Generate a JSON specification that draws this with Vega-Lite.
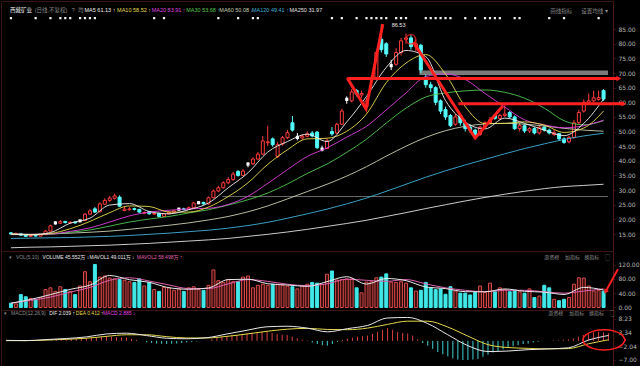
{
"$schema": "https://vega.github.io/schema/vega-lite/v6.json",
"background": "#000000",
"padding": 0,
"spacing": 0,
"bounds": "flush",
"config": {
  "view": {"stroke": "#3a1414", "strokeWidth": 1},
  "axis": {"labelFontSize": 6, "labelColor": "#b8b8b8", "labelFont": "DejaVu Sans", "domainColor": "#4a1616", "tickColor": "#4a1616", "tickSize": 2, "labelPadding": 3, "grid": false, "labelOverlap": false, "labelFlush": false},
  "text": {"font": "Liberation Sans, Noto Sans CJK SC", "fontSize": 5.5}
},
"resolve": {"scale": {"color": "independent"}},
"datasets": {
"k": [
{"i":0,"o":15.4,"h":15.7,"l":14.8,"c":15.0,"v":12,"m":0.1},
{"i":1,"o":15.0,"h":15.5,"l":14.8,"c":15.2,"v":10,"m":0.1},
{"i":2,"o":15.2,"h":15.3,"l":14.4,"c":14.6,"v":36,"m":0},
{"i":3,"o":14.6,"h":14.8,"l":14.0,"c":14.2,"v":30,"m":0},
{"i":4,"o":14.2,"h":14.8,"l":14.0,"c":14.5,"v":25,"m":0},
{"i":5,"o":14.6,"h":14.8,"l":14.1,"c":14.3,"v":22,"m":0.1},
{"i":6,"o":14.3,"h":15.0,"l":14.2,"c":14.8,"v":28,"m":0.2},
{"i":7,"o":14.8,"h":16.3,"l":14.7,"c":16.0,"v":50,"m":0.3},
{"i":8,"o":16.0,"h":18.2,"l":15.9,"c":17.8,"v":55,"m":0.4},
{"i":9,"o":18.8,"h":19.3,"l":18.2,"c":18.8,"v":45,"m":0.5},
{"i":10,"o":18.7,"h":19.8,"l":18.5,"c":19.2,"v":58,"m":0.5},
{"i":11,"o":19.3,"h":19.5,"l":18.6,"c":18.9,"v":50,"m":0.6},
{"i":12,"o":18.8,"h":19.4,"l":18.5,"c":19.0,"v":45,"m":0.6},
{"i":13,"o":19.1,"h":19.3,"l":18.5,"c":18.8,"v":36,"m":0.7},
{"i":14,"o":19.5,"h":19.9,"l":19.1,"c":19.5,"v":60,"m":0.8},
{"i":15,"o":19.6,"h":22.2,"l":19.5,"c":21.8,"v":100,"m":0.9},
{"i":16,"o":21.8,"h":23.5,"l":21.5,"c":22.9,"v":72,"m":1.0},
{"i":17,"o":23.6,"h":24.2,"l":22.2,"c":22.5,"v":120,"m":1.2},
{"i":18,"o":22.6,"h":25.8,"l":22.4,"c":25.3,"v":85,"m":1.4},
{"i":19,"o":25.2,"h":27.2,"l":25.0,"c":26.5,"v":88,"m":1.6},
{"i":20,"o":26.5,"h":28.0,"l":26.0,"c":27.3,"v":82,"m":1.8},
{"i":21,"o":27.2,"h":28.8,"l":26.8,"c":28.0,"v":80,"m":1.6},
{"i":22,"o":27.6,"h":28.2,"l":24.2,"c":24.5,"v":78,"m":1.4},
{"i":23,"o":23.0,"h":24.5,"l":22.8,"c":23.5,"v":76,"m":1.3},
{"i":24,"o":23.3,"h":24.2,"l":23.0,"c":23.6,"v":72,"m":1.2},
{"i":25,"o":23.7,"h":24.0,"l":23.0,"c":23.4,"v":70,"m":0.8},
{"i":26,"o":23.4,"h":23.6,"l":22.2,"c":22.5,"v":80,"m":0.4},
{"i":27,"o":22.1,"h":22.8,"l":21.8,"c":22.3,"v":60,"m":0},
{"i":28,"o":22.6,"h":22.8,"l":21.6,"c":21.9,"v":70,"m":-0.5},
{"i":29,"o":21.8,"h":22.4,"l":21.5,"c":22.0,"v":50,"m":-0.8},
{"i":30,"o":22.1,"h":22.2,"l":20.7,"c":21.0,"v":45,"m":-1.0},
{"i":31,"o":21.0,"h":22.1,"l":20.8,"c":21.9,"v":56,"m":-1.1},
{"i":32,"o":21.9,"h":22.8,"l":21.7,"c":22.5,"v":55,"m":-1.2},
{"i":33,"o":22.4,"h":23.2,"l":22.2,"c":22.9,"v":48,"m":-1.1},
{"i":34,"o":23.5,"h":23.8,"l":23.1,"c":23.5,"v":52,"m":-1.0},
{"i":35,"o":23.6,"h":24.0,"l":23.1,"c":23.4,"v":45,"m":-0.8},
{"i":36,"o":23.4,"h":24.4,"l":23.2,"c":24.0,"v":55,"m":-0.6},
{"i":37,"o":24.0,"h":26.0,"l":23.8,"c":25.6,"v":58,"m":-0.4},
{"i":38,"o":25.7,"h":26.2,"l":25.2,"c":25.7,"v":50,"m":-0.2},
{"i":39,"o":25.8,"h":26.0,"l":25.0,"c":25.3,"v":48,"m":0},
{"i":40,"o":25.3,"h":27.8,"l":25.1,"c":27.4,"v":62,"m":0.1},
{"i":41,"o":27.4,"h":30.2,"l":27.2,"c":29.7,"v":105,"m":0.6},
{"i":42,"o":29.7,"h":31.5,"l":29.3,"c":30.8,"v":75,"m":1.2},
{"i":43,"o":30.8,"h":33.0,"l":30.5,"c":32.5,"v":70,"m":1.6},
{"i":44,"o":32.5,"h":34.5,"l":32.0,"c":33.6,"v":78,"m":1.8},
{"i":45,"o":33.6,"h":36.2,"l":33.2,"c":35.5,"v":72,"m":2.1},
{"i":46,"o":36.4,"h":36.8,"l":34.6,"c":35.0,"v":72,"m":2.2},
{"i":47,"o":35.0,"h":37.2,"l":34.8,"c":36.5,"v":85,"m":2.4},
{"i":48,"o":38.9,"h":39.6,"l":37.8,"c":38.9,"v":88,"m":2.8},
{"i":49,"o":39.0,"h":41.2,"l":38.6,"c":40.6,"v":55,"m":3.0},
{"i":50,"o":40.6,"h":43.0,"l":40.2,"c":42.3,"v":62,"m":3.1},
{"i":51,"o":42.3,"h":48.5,"l":42.0,"c":46.8,"v":65,"m":3.4},
{"i":52,"o":46.2,"h":52.0,"l":45.0,"c":46.5,"v":62,"m":3.4},
{"i":53,"o":47.5,"h":48.0,"l":44.8,"c":45.5,"v":65,"m":3.0},
{"i":54,"o":41.5,"h":46.5,"l":41.0,"c":45.5,"v":65,"m":2.6},
{"i":55,"o":45.8,"h":48.5,"l":45.2,"c":47.9,"v":62,"m":2.4},
{"i":56,"o":47.9,"h":50.5,"l":47.5,"c":49.6,"v":60,"m":2.2},
{"i":57,"o":53.0,"h":55.3,"l":50.0,"c":50.5,"v":58,"m":1.6},
{"i":58,"o":48.0,"h":49.5,"l":47.0,"c":48.0,"v":52,"m":1.0},
{"i":59,"o":47.8,"h":49.0,"l":47.2,"c":48.4,"v":60,"m":0.4},
{"i":60,"o":48.4,"h":50.0,"l":48.0,"c":49.2,"v":65,"m":0.2},
{"i":61,"o":49.5,"h":50.2,"l":48.0,"c":48.5,"v":70,"m":-0.6},
{"i":62,"o":49.8,"h":50.2,"l":44.0,"c":44.5,"v":68,"m":-1.2},
{"i":63,"o":44.0,"h":45.2,"l":43.2,"c":44.0,"v":65,"m":-1.6},
{"i":64,"o":44.2,"h":47.5,"l":44.0,"c":46.8,"v":93,"m":-1.8},
{"i":65,"o":50.0,"h":51.5,"l":48.5,"c":49.2,"v":102,"m":-1.2},
{"i":66,"o":49.5,"h":53.0,"l":49.2,"c":52.5,"v":77,"m":-0.4},
{"i":67,"o":52.5,"h":57.8,"l":52.2,"c":57.0,"v":78,"m":0.4},
{"i":68,"o":61.0,"h":62.0,"l":59.5,"c":61.0,"v":80,"m":0.8},
{"i":69,"o":60.5,"h":64.5,"l":60.0,"c":63.5,"v":80,"m":1.2},
{"i":70,"o":64.0,"h":64.5,"l":62.0,"c":62.8,"v":55,"m":1.6},
{"i":71,"o":62.5,"h":64.0,"l":61.5,"c":63.0,"v":41,"m":1.8},
{"i":72,"o":58.5,"h":61.5,"l":57.5,"c":60.5,"v":71,"m":2.0},
{"i":73,"o":68.0,"h":69.0,"l":66.5,"c":68.0,"v":72,"m":2.6},
{"i":74,"o":68.5,"h":78.0,"l":68.0,"c":77.0,"v":83,"m":3.4},
{"i":75,"o":81.5,"h":86.5,"l":77.0,"c":78.0,"v":85,"m":4.2},
{"i":76,"o":80.0,"h":80.5,"l":75.5,"c":76.5,"v":94,"m":4.8},
{"i":77,"o":72.5,"h":74.5,"l":71.0,"c":72.5,"v":71,"m":4.2},
{"i":78,"o":73.0,"h":78.5,"l":72.5,"c":77.0,"v":70,"m":3.4},
{"i":79,"o":77.0,"h":82.0,"l":76.0,"c":81.0,"v":72,"m":3.0},
{"i":80,"o":81.5,"h":83.5,"l":80.0,"c":82.0,"v":68,"m":2.8},
{"i":81,"o":82.0,"h":83.0,"l":78.0,"c":79.0,"v":55,"m":2.0},
{"i":82,"o":79.0,"h":81.5,"l":77.5,"c":80.0,"v":46,"m":0.6},
{"i":83,"o":79.5,"h":80.0,"l":70.0,"c":71.0,"v":48,"m":-0.8},
{"i":84,"o":68.5,"h":69.5,"l":65.0,"c":66.0,"v":70,"m":-1.8},
{"i":85,"o":66.0,"h":67.0,"l":63.5,"c":65.0,"v":55,"m":-3.0},
{"i":86,"o":65.0,"h":65.5,"l":59.0,"c":60.0,"v":50,"m":-4.2},
{"i":87,"o":60.5,"h":61.0,"l":56.0,"c":57.0,"v":52,"m":-5.0},
{"i":88,"o":57.5,"h":58.5,"l":54.0,"c":55.0,"v":37,"m":-5.8},
{"i":89,"o":55.5,"h":56.0,"l":51.5,"c":52.0,"v":58,"m":-6.6},
{"i":90,"o":52.5,"h":56.0,"l":52.0,"c":55.0,"v":46,"m":-7.0},
{"i":91,"o":55.5,"h":56.0,"l":52.0,"c":53.0,"v":40,"m":-7.2},
{"i":92,"o":53.0,"h":54.0,"l":50.0,"c":51.0,"v":40,"m":-7.2},
{"i":93,"o":51.5,"h":52.5,"l":49.5,"c":50.5,"v":35,"m":-7.0},
{"i":94,"o":50.5,"h":51.0,"l":47.5,"c":48.5,"v":42,"m":-6.8},
{"i":95,"o":49.0,"h":52.0,"l":48.5,"c":51.5,"v":60,"m":-6.0},
{"i":96,"o":51.5,"h":53.5,"l":51.0,"c":53.0,"v":42,"m":-5.2},
{"i":97,"o":53.0,"h":55.0,"l":52.5,"c":54.0,"v":68,"m":-4.4},
{"i":98,"o":55.5,"h":56.0,"l":54.0,"c":54.5,"v":44,"m":-3.8},
{"i":99,"o":54.5,"h":56.0,"l":54.0,"c":55.5,"v":55,"m":-3.2},
{"i":100,"o":55.5,"h":59.5,"l":55.0,"c":56.0,"v":50,"m":-2.6},
{"i":101,"o":56.5,"h":57.0,"l":54.5,"c":55.0,"v":44,"m":-2.0},
{"i":102,"o":55.0,"h":55.5,"l":50.5,"c":51.0,"v":48,"m":-1.6},
{"i":103,"o":51.0,"h":53.0,"l":50.0,"c":52.0,"v":44,"m":-1.2},
{"i":104,"o":52.0,"h":52.5,"l":49.5,"c":50.2,"v":40,"m":-1.0},
{"i":105,"o":50.2,"h":51.5,"l":49.5,"c":51.0,"v":52,"m":-0.6},
{"i":106,"o":51.0,"h":51.5,"l":49.0,"c":49.5,"v":28,"m":-0.3},
{"i":107,"o":49.5,"h":52.0,"l":49.0,"c":51.5,"v":32,"m":0},
{"i":108,"o":51.5,"h":52.0,"l":50.0,"c":50.5,"v":62,"m":0},
{"i":109,"o":50.5,"h":51.0,"l":49.0,"c":49.5,"v":55,"m":0.2},
{"i":110,"o":49.0,"h":50.5,"l":48.5,"c":49.6,"v":23,"m":0.2},
{"i":111,"o":49.3,"h":49.5,"l":47.0,"c":47.5,"v":19,"m":0.4},
{"i":112,"o":47.5,"h":48.0,"l":45.8,"c":46.3,"v":23,"m":0.6},
{"i":113,"o":46.5,"h":48.5,"l":46.0,"c":48.0,"v":28,"m":1.0},
{"i":114,"o":48.0,"h":54.0,"l":47.5,"c":53.0,"v":65,"m":1.6},
{"i":115,"o":53.0,"h":57.5,"l":52.5,"c":56.5,"v":83,"m":2.2},
{"i":116,"o":57.0,"h":61.0,"l":56.5,"c":60.0,"v":82,"m":2.8},
{"i":117,"o":60.0,"h":63.0,"l":59.5,"c":60.5,"v":60,"m":3.2},
{"i":118,"o":60.5,"h":64.0,"l":60.0,"c":61.5,"v":46,"m":3.4},
{"i":119,"o":61.0,"h":64.0,"l":60.5,"c":61.6,"v":48,"m":3.2},
{"i":120,"o":64.0,"h":64.5,"l":60.5,"c":61.1,"v":45.6,"m":2.9}
],
"ma": [
{"i":0,"m5":15.0,"m10":15.0,"m20":15.0,"m30":15.0,"m60":14.8,"m120":13.5,"m250":10.3},
{"i":4,"m5":14.7,"m10":14.8,"m20":14.9,"m30":14.9,"m60":14.8,"m120":13.6,"m250":10.5},
{"i":8,"m5":15.5,"m10":15.2,"m20":15.0,"m30":15.0,"m60":15.0,"m120":13.7,"m250":10.6},
{"i":12,"m5":18.7,"m10":16.8,"m20":15.9,"m30":15.6,"m60":15.3,"m120":13.8,"m250":10.8},
{"i":16,"m5":20.4,"m10":19.3,"m20":17.1,"m30":16.4,"m60":15.6,"m120":14.0,"m250":11.0},
{"i":20,"m5":24.9,"m10":22.3,"m20":19.1,"m30":17.7,"m60":16.0,"m120":14.2,"m250":11.2},
{"i":24,"m5":25.4,"m10":24.6,"m20":21.2,"m30":19.1,"m60":16.6,"m120":14.5,"m250":11.5},
{"i":28,"m5":22.7,"m10":24.4,"m20":22.5,"m30":20.1,"m60":17.3,"m120":14.9,"m250":11.8},
{"i":32,"m5":21.9,"m10":22.5,"m20":23.1,"m30":21.0,"m60":18.0,"m120":15.3,"m250":12.2},
{"i":36,"m5":23.3,"m10":22.5,"m20":23.6,"m30":22.2,"m60":18.8,"m120":15.8,"m250":12.6},
{"i":40,"m5":25.6,"m10":24.2,"m20":23.8,"m30":23.3,"m60":19.8,"m120":16.3,"m250":13.0},
{"i":44,"m5":30.8,"m10":27.8,"m20":25.1,"m30":24.9,"m60":21.0,"m120":17.0,"m250":13.5},
{"i":48,"m5":35.9,"m10":32.5,"m20":27.9,"m30":26.7,"m60":22.6,"m120":17.9,"m250":14.2},
{"i":52,"m5":43.0,"m10":38.8,"m20":32.3,"m30":29.0,"m60":24.6,"m120":19.0,"m250":14.9},
{"i":56,"m5":46.6,"m10":43.8,"m20":37.0,"m30":32.1,"m60":27.0,"m120":20.4,"m250":15.7},
{"i":60,"m5":49.1,"m10":47.5,"m20":41.5,"m30":35.7,"m60":29.5,"m120":21.9,"m250":16.6},
{"i":64,"m5":46.6,"m10":47.7,"m20":44.4,"m30":38.9,"m60":32.0,"m120":23.5,"m250":17.6},
{"i":68,"m5":53.3,"m10":50.1,"m20":48.1,"m30":42.9,"m60":34.8,"m120":25.3,"m250":18.6},
{"i":72,"m5":62.0,"m10":56.0,"m20":51.8,"m30":47.4,"m60":38.0,"m120":27.3,"m250":19.7},
{"i":76,"m5":71.9,"m10":66.7,"m20":57.4,"m30":52.9,"m60":41.6,"m120":29.6,"m250":21.0},
{"i":80,"m5":77.7,"m10":73.4,"m20":63.2,"m30":58.0,"m60":45.0,"m120":32.0,"m250":22.3},
{"i":84,"m5":75.6,"m10":76.3,"m20":68.8,"m30":61.8,"m60":48.0,"m120":34.4,"m250":23.7},
{"i":88,"m5":60.6,"m10":69.6,"m20":69.7,"m30":63.2,"m60":50.3,"m120":36.6,"m250":25.0},
{"i":92,"m5":53.2,"m10":58.5,"m20":67.8,"m30":63.9,"m60":51.8,"m120":38.6,"m250":26.3},
{"i":96,"m5":50.9,"m10":52.7,"m20":63.0,"m30":64.2,"m60":52.6,"m120":40.5,"m250":27.5},
{"i":100,"m5":54.6,"m10":52.8,"m20":58.4,"m30":63.4,"m60":52.8,"m120":42.4,"m250":28.6},
{"i":104,"m5":52.8,"m10":53.3,"m20":54.0,"m30":61.4,"m60":52.5,"m120":44.2,"m250":29.6},
{"i":108,"m5":50.5,"m10":52.2,"m20":52.3,"m30":58.0,"m60":51.9,"m120":45.8,"m250":30.5},
{"i":112,"m5":48.6,"m10":49.7,"m20":51.3,"m30":53.7,"m60":51.1,"m120":47.3,"m250":31.2},
{"i":116,"m5":52.8,"m10":51.2,"m20":52.0,"m30":52.3,"m60":50.5,"m120":48.5,"m250":31.6},
{"i":120,"m5":61.1,"m10":57.0,"m20":53.9,"m30":53.7,"m60":50.1,"m120":49.4,"m250":32.0}
],
"vl": [
{"i":0,"v5":12,"v10":12},{"i":4,"v5":22.6,"v10":20},{"i":8,"v5":36,"v10":29},{"i":12,"v5":50.6,"v10":43},
{"i":16,"v5":62.6,"v10":56},{"i":20,"v5":89.4,"v10":76},{"i":24,"v5":77.6,"v10":83},{"i":28,"v5":70.4,"v10":74},
{"i":32,"v5":55.2,"v10":63},{"i":36,"v5":51,"v10":53},{"i":40,"v5":54.6,"v10":53},{"i":44,"v5":78,"v10":66},
{"i":48,"v5":79,"v10":78},{"i":52,"v5":66.4,"v10":73},{"i":56,"v5":62.8,"v10":65},{"i":60,"v5":59,"v10":61},
{"i":64,"v5":72.2,"v10":66},{"i":68,"v5":86,"v10":79},{"i":72,"v5":65.4,"v10":76},{"i":76,"v5":81,"v10":73},
{"i":80,"v5":75,"v10":78},{"i":84,"v5":57.4,"v10":66},{"i":88,"v5":52.8,"v10":55},{"i":92,"v5":44.2,"v10":48},
{"i":96,"v5":43.8,"v10":44},{"i":100,"v5":51.8,"v10":48},{"i":104,"v5":45.2,"v10":48},{"i":108,"v5":42.8,"v10":44},
{"i":112,"v5":36.4,"v10":40},{"i":116,"v5":56.2,"v10":46},{"i":120,"v5":49.0,"v10":52}
],
"md": [
{"i":0,"dif":0.2,"dea":0.1},{"i":4,"dif":0.1,"dea":0.1},{"i":8,"dif":0.5,"dea":0.3},{"i":12,"dif":0.9,"dea":0.6},
{"i":16,"dif":1.5,"dea":1.0},{"i":20,"dif":2.6,"dea":1.7},{"i":24,"dif":2.9,"dea":2.3},{"i":28,"dif":2.0,"dea":2.3},
{"i":32,"dif":1.0,"dea":1.6},{"i":36,"dif":0.8,"dea":1.1},{"i":40,"dif":1.2,"dea":1.1},{"i":44,"dif":2.6,"dea":1.7},
{"i":48,"dif":4.0,"dea":2.6},{"i":52,"dif":5.3,"dea":3.6},{"i":56,"dif":5.5,"dea":4.4},{"i":60,"dif":4.8,"dea":4.7},
{"i":64,"dif":3.4,"dea":4.3},{"i":68,"dif":4.6,"dea":4.2},{"i":72,"dif":5.8,"dea":4.8},{"i":76,"dif":8.6,"dea":6.2},
{"i":80,"dif":8.8,"dea":7.4},{"i":84,"dif":6.5,"dea":7.4},{"i":88,"dif":2.3,"dea":5.2},{"i":92,"dif":-1.8,"dea":1.8},
{"i":96,"dif":-4.0,"dea":-1.4},{"i":100,"dif":-3.8,"dea":-2.5},{"i":104,"dif":-3.3,"dea":-2.8},{"i":108,"dif":-3.0,"dea":-3.0},
{"i":112,"dif":-2.6,"dea":-2.9},{"i":116,"dif":0.3,"dea":-1.1},{"i":120,"dif":2.04,"dea":0.41}
],
"hp": [
{"i":-0.2,"y":91.6,"t":"西藏矿业","k":"name"},
{"i":4.8,"y":91.6,"t":"(日线,不复权)","k":"g"},
{"i":12.3,"y":91.6,"t":"?","k":"g"},
{"i":13.6,"y":91.6,"t":"均","k":"g"},
{"i":14.9,"y":91.6,"t":"MA5 61.13 ↑","k":"m5"},
{"i":21.5,"y":91.6,"t":"MA10 58.52 ↑","k":"m10"},
{"i":28.5,"y":91.6,"t":"MA20 53.91 ↑","k":"m20"},
{"i":35.5,"y":91.6,"t":"MA30 53.68 ↑","k":"m30"},
{"i":42.2,"y":91.6,"t":"MA60 50.08 ↓","k":"m60"},
{"i":48.8,"y":91.6,"t":"MA120 49.41 ↑","k":"m120"},
{"i":56.4,"y":91.6,"t":"MA250 31.97","k":"m250"},
{"i":109.2,"y":91.3,"t":"画线指标","k":"g"},
{"i":115.5,"y":91.3,"t":"设置均线 ▾","k":"g"},
{"i":77.1,"y":86.3,"t":"86.53","k":"name"}
],
"hv": [
{"i":-0.4,"y":141,"t":"▾","k":"g"},
{"i":1.0,"y":141,"t":"VOL(5,10)","k":"g"},
{"i":6.4,"y":141,"t":"VOLUME 45.552万 ↓","k":"w"},
{"i":15.9,"y":141,"t":"MAVOL1 49.011万 ↓","k":"v5"},
{"i":25.5,"y":141,"t":"MAVOL2 58.498万 ↑","k":"v10"},
{"i":108.0,"y":141,"t":"游资榜","k":"g"},
{"i":112.2,"y":141,"t":"加指标","k":"g"},
{"i":116.1,"y":141,"t":"换指标","k":"g"},
{"i":120.3,"y":141,"t":"▢","k":"g"}
],
"hm": [
{"i":-0.4,"y":10.3,"t":"▾","k":"g"},
{"i":1.0,"y":10.3,"t":"MACD(12,26,9)","k":"g"},
{"i":8.6,"y":10.3,"t":"DIF 2.039 ↑","k":"dif"},
{"i":13.9,"y":10.3,"t":"DEA 0.412 ↑","k":"dea"},
{"i":19.3,"y":10.3,"t":"MACD 2.885 ↓","k":"macd"},
{"i":108.0,"y":10.3,"t":"游资榜","k":"g"},
{"i":112.2,"y":10.3,"t":"加指标","k":"g"},
{"i":116.1,"y":10.3,"t":"换指标","k":"g"},
{"i":120.3,"y":10.3,"t":"▢","k":"g"}
],
"mk": [
{"i":0},{"i":5},{"i":8},{"i":10},{"i":11},{"i":12},{"i":14},{"i":15},{"i":16},{"i":17},{"i":29},{"i":31},{"i":42},{"i":46},{"i":49},{"i":50},
{"i":65},{"i":67},{"i":70},{"i":72},{"i":73},{"i":74},{"i":75},{"i":76},{"i":78},{"i":79},{"i":80},{"i":84},{"i":85},{"i":86},{"i":87},{"i":88},{"i":89},
{"i":92},{"i":94},{"i":96},{"i":97},{"i":98},{"i":99},{"i":102},{"i":103},{"i":109},{"i":112},{"i":119}
],
"zz": [
{"s":1,"i":68.1,"p":68.3},{"s":1,"i":71.9,"p":57.7},{"s":1,"i":75.3,"p":86.7},
{"s":2,"i":81.5,"p":80.5},{"s":2,"i":94.0,"p":47.8},{"s":2,"i":99.6,"p":58.7}
],
"hl": [
{"a":68.1,"b":123.1,"p":68.1},
{"a":90.6,"b":124.1,"p":59.5}
],
"el": [
{"n":0,"i":123.3,"v":0.38},{"n":1,"i":122.7,"v":2.28},{"n":2,"i":121.2,"v":3.67},{"n":3,"i":119.1,"v":4.18},
{"n":4,"i":117.0,"v":3.67},{"n":5,"i":115.5,"v":2.28},{"n":6,"i":114.9,"v":0.38},{"n":7,"i":115.5,"v":-1.52},
{"n":8,"i":117.0,"v":-2.91},{"n":9,"i":119.1,"v":-3.42},{"n":10,"i":121.2,"v":-2.91},{"n":11,"i":122.7,"v":-1.52},
{"n":12,"i":123.3,"v":0.38}
],
"ar": [
{"i":122.9,"v":107},{"i":120.4,"v":44}
]
},
"vconcat": [
{
"width": 612, "height": 250,
"layer": [
{"data": {"values": [{"a":82.7,"b":120.9,"lo":69.3,"hi":70.9}]},
 "mark": {"type":"rect","color":"#7a7a7a"},
 "encoding": {
  "x": {"field":"a","type":"quantitative","scale":{"domain":[-1,120.9],"nice":false,"zero":false},"axis":null},
  "x2": {"field":"b"},
  "y": {"field":"lo","type":"quantitative","scale":{"domain":[9.2,94.6],"nice":false,"zero":false},"axis":{"orient":"right","values":[15,20,25,30,35,40,45,50,55,60,65,70,75,80,85],"tickCount":40,"format":".2f","title":null,"labelOverlap":false,"labelSeparation":0}},
  "y2": {"field":"hi"}}},
{"data": {"values": [{"a":42.8,"b":120.9,"p":27.8}]},
 "mark": {"type":"rule","color":"#6a6a6a","strokeWidth":1},
 "encoding": {"x": {"field":"a","type":"quantitative"},"x2": {"field":"b"},"y": {"field":"p","type":"quantitative"}}},
{"data": {"name":"k"},
 "mark": {"type":"rule","strokeWidth":1},
 "encoding": {
  "x": {"field":"i","type":"quantitative"},
  "y": {"field":"l","type":"quantitative"},
  "y2": {"field":"h"},
  "color": {"condition":[{"test":"datum.c == datum.o","value":"#ffffff"},{"test":"datum.c > datum.o","value":"#ff3c3c"}],"value":"#54fcfc"}}},
{"data": {"name":"k"},
 "transform": [{"filter":"datum.c != datum.o"}],
 "mark": {"type":"bar","size":3,"strokeWidth":1},
 "encoding": {
  "x": {"field":"i","type":"quantitative"},
  "y": {"field":"o","type":"quantitative"},
  "y2": {"field":"c"},
  "fill": {"condition":{"test":"datum.c > datum.o","value":"#000000"},"value":"#54fcfc"},
  "stroke": {"condition":{"test":"datum.c > datum.o","value":"#ff3c3c"},"value":"#54fcfc"}}},
{"data": {"name":"k"},
 "transform": [{"filter":"datum.c == datum.o"}],
 "mark": {"type":"square","size":10,"color":"#ffffff","opacity":1,"filled":true},
 "encoding": {"x": {"field":"i","type":"quantitative"},"y": {"field":"c","type":"quantitative"}}},
{"data": {"name":"ma"},
 "transform": [{"fold":["m250","m120","m60","m30","m20","m10","m5"],"as":["key","val"]}],
 "mark": {"type":"line","strokeWidth":0.9,"interpolate":"monotone"},
 "encoding": {
  "x": {"field":"i","type":"quantitative"},
  "y": {"field":"val","type":"quantitative"},
  "color": {"field":"key","type":"nominal","legend":null,"scale":{"domain":["name","g","m5","m10","m20","m30","m60","m120","m250"],"range":["#e8e8e8","#8c8c8c","#f0f0f0","#e8dc50","#e040e0","#50c850","#c8d0b0","#40b0d8","#e0e0e0"]}}}},
{"data": {"name":"zz"},
 "mark": {"type":"line","color":"#ff2020","strokeWidth":3},
 "encoding": {"x": {"field":"i","type":"quantitative"},"y": {"field":"p","type":"quantitative"},"detail": {"field":"s","type":"nominal"}}},
{"data": {"values": [{"i":81.0,"p":81.5}]},
 "mark": {"type":"point","shape":"circle","size":90,"color":"#ff2020","strokeWidth":1.5,"filled":false},
 "encoding": {"x": {"field":"i","type":"quantitative"},"y": {"field":"p","type":"quantitative"}}},
{"data": {"name":"hl"},
 "mark": {"type":"rule","color":"#ff2020","strokeWidth":3},
 "encoding": {"x": {"field":"a","type":"quantitative"},"x2": {"field":"b"},"y": {"field":"p","type":"quantitative"}}},
{"data": {"name":"hl"},
 "mark": {"type":"point","shape":"triangle-right","size":30,"color":"#ff2020","filled":true,"opacity":1},
 "encoding": {"x": {"field":"b","type":"quantitative"},"y": {"field":"p","type":"quantitative"}}},
{"data": {"name":"mk"},
 "mark": {"type":"square","size":5,"color":"#f0f0f0","opacity":1},
 "encoding": {"x": {"field":"i","type":"quantitative"},"y": {"datum":88.75,"type":"quantitative"}}},
{"data": {"name":"hp"},
 "mark": {"type":"text","align":"left","baseline":"middle","fontSize":5.5},
 "encoding": {
  "x": {"field":"i","type":"quantitative"},
  "y": {"field":"y","type":"quantitative"},
  "text": {"field":"t"},
  "color": {"field":"k","type":"nominal","legend":null,"scale":{"domain":["name","g","m5","m10","m20","m30","m60","m120","m250"],"range":["#e8e8e8","#8c8c8c","#f0f0f0","#e8dc50","#e040e0","#50c850","#c8d0b0","#40b0d8","#e0e0e0"]}}}}
]
},
{
"width": 612, "height": 59,
"layer": [
{"data": {"name":"k"},
 "mark": {"type":"bar","size":3,"strokeWidth":1},
 "encoding": {
  "x": {"field":"i","type":"quantitative","scale":{"domain":[-1,120.9],"nice":false,"zero":false},"axis":null},
  "y": {"field":"v","type":"quantitative","scale":{"domain":[-7,157.8],"nice":false,"zero":false},"axis":{"orient":"right","values":[0,40,80,120],"tickCount":40,"format":".2f","title":null,"labelOverlap":false,"labelSeparation":0}},
  "y2": {"datum":0},
  "fill": {"condition":{"test":"datum.c >= datum.o","value":"#3a1010"},"value":"#40e8e8"},
  "stroke": {"condition":{"test":"datum.c >= datum.o","value":"#d84848"},"value":"#40e8e8"}}},
{"data": {"name":"vl"},
 "transform": [{"fold":["v10","v5"],"as":["key","val"]}],
 "mark": {"type":"line","strokeWidth":1,"interpolate":"monotone"},
 "encoding": {
  "x": {"field":"i","type":"quantitative"},
  "y": {"field":"val","type":"quantitative"},
  "color": {"field":"key","type":"nominal","legend":null,"scale":{"domain":["g","w","v5","v10"],"range":["#8c8c8c","#e8e8e8","#e8e8e8","#e060b0"]}}}},
{"data": {"name":"ar"},
 "mark": {"type":"line","color":"#ff2020","strokeWidth":2},
 "encoding": {"x": {"field":"i","type":"quantitative"},"y": {"field":"v","type":"quantitative"}}},
{"data": {"values": [{"i":120.4,"v":44}]},
 "mark": {"type":"point","shape":"triangle-up","angle":208,"size":30,"color":"#ff2020","filled":true,"opacity":1},
 "encoding": {"x": {"field":"i","type":"quantitative"},"y": {"field":"v","type":"quantitative"}}},
{"data": {"name":"hv"},
 "mark": {"type":"text","align":"left","baseline":"middle","fontSize":5},
 "encoding": {
  "x": {"field":"i","type":"quantitative"},
  "y": {"field":"y","type":"quantitative"},
  "text": {"field":"t"},
  "color": {"field":"k","type":"nominal","legend":null,"scale":{"domain":["g","w","v5","v10"],"range":["#8c8c8c","#e8e8e8","#e8e8e8","#e060b0"]}}}}
]
},
{
"width": 612, "height": 57,
"layer": [
{"data": {"name":"k"},
 "mark": {"type":"rule","strokeWidth":1},
 "encoding": {
  "x": {"field":"i","type":"quantitative","scale":{"domain":[-1,120.9],"nice":false,"zero":false},"axis":null},
  "y": {"field":"m","type":"quantitative","scale":{"domain":[-9.8,11.6],"nice":false,"zero":false},"axis":{"orient":"right","values":[-7,-2.04,3.34,8.23],"tickCount":40,"format":".2f","title":null,"labelOverlap":false,"labelSeparation":0}},
  "y2": {"datum":0},
  "color": {"condition":{"test":"datum.m > 0","value":"#d84040"},"value":"#40d0d0"}}},
{"data": {"name":"md"},
 "transform": [{"fold":["dea","dif"],"as":["key","val"]}],
 "mark": {"type":"line","strokeWidth":1,"interpolate":"monotone"},
 "encoding": {
  "x": {"field":"i","type":"quantitative"},
  "y": {"field":"val","type":"quantitative"},
  "color": {"field":"key","type":"nominal","legend":null,"scale":{"domain":["g","dif","dea","macd"],"range":["#8c8c8c","#e8e8e8","#e6d84a","#e040e0"]}}}},
{"data": {"name":"el"},
 "mark": {"type":"line","color":"#ff2020","strokeWidth":1.5,"interpolate":"cardinal-closed"},
 "encoding": {"x": {"field":"i","type":"quantitative"},"y": {"field":"v","type":"quantitative"},"order": {"field":"n","type":"quantitative"}}},
{"data": {"name":"hm"},
 "mark": {"type":"text","align":"left","baseline":"middle","fontSize":5},
 "encoding": {
  "x": {"field":"i","type":"quantitative"},
  "y": {"field":"y","type":"quantitative"},
  "text": {"field":"t"},
  "color": {"field":"k","type":"nominal","legend":null,"scale":{"domain":["g","dif","dea","macd"],"range":["#8c8c8c","#e8e8e8","#e6d84a","#e040e0"]}}}}
]
}
]
}
